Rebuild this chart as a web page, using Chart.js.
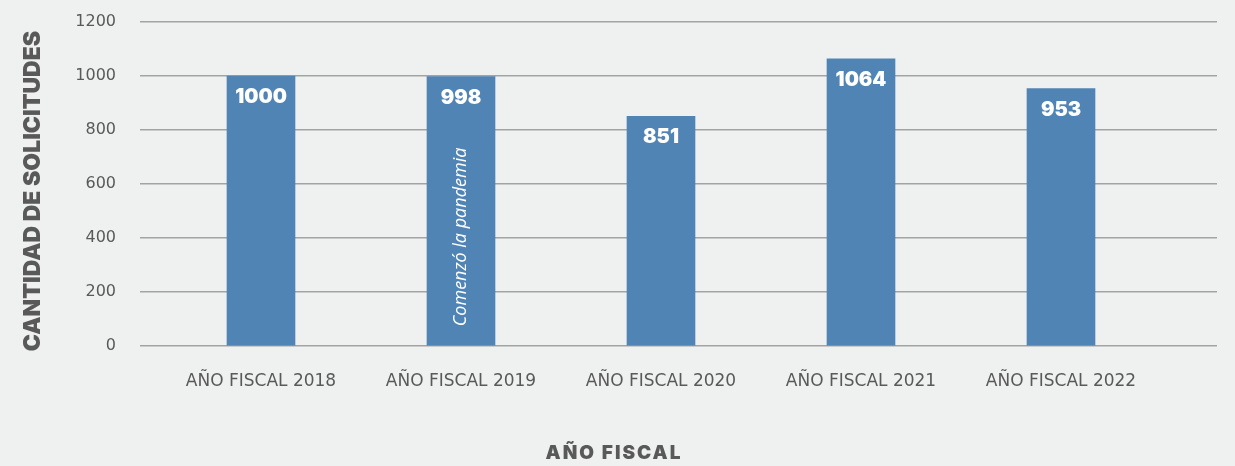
<!DOCTYPE html>
<html>
<head>
<meta charset="utf-8">
<script src="https://cdn.jsdelivr.net/npm/chart.js@4/dist/chart.umd.min.js"></script>
<style>
  html, body { margin: 0; padding: 0; background: #eff0f0; }
  #wrap { width: 1235px; height: 466px; }
</style>
</head>
<body>
<div id="wrap"><canvas id="solicitudes"></canvas></div>
<script>
// data
const years = ["AÑO FISCAL 2018", "AÑO FISCAL 2019", "AÑO FISCAL 2020", "AÑO FISCAL 2021", "AÑO FISCAL 2022"];
const requests = [1000, 998, 851, 1064, 953];
const yTicks = [0, 200, 400, 600, 800, 1000, 1200];
const notes = ["", "Comenzó la pandemia", "", "", ""];
const xTitle = "AÑO FISCAL";
const yTitle = "CANTIDAD DE SOLICITUDES";

const barColor = "#5084b5";
const textGray = "#595959";

// value on top of each bar, the rotated note inside a bar, and both axis titles
const barLabels = {
    id: "barLabels",
    afterDatasetsDraw(chart) {
        const ctx = chart.ctx;
        const bars = chart.getDatasetMeta(0).data;
        ctx.save();
        ctx.fillStyle = "#ffffff";
        ctx.textBaseline = "middle";
        bars.forEach((bar, i) => {
            ctx.font = "900 20px Inter";
            ctx.textAlign = "center";
            ctx.fillText(String(requests[i]), bar.x, bar.y + 21);
            if (notes[i]) {
                ctx.save();
                ctx.translate(bar.x, bar.base - 19);
                ctx.rotate(-Math.PI / 2);
                ctx.font = "italic 18px 'Open Sans'";
                ctx.textAlign = "left";
                ctx.fillText(notes[i], 0, 0);
                ctx.restore();
            }
        });

        ctx.fillStyle = textGray;
        ctx.textAlign = "center";
        ctx.save();
        ctx.translate(33, 191);
        ctx.rotate(-Math.PI / 2);
        ctx.font = "900 23px Inter";
        ctx.fillText(yTitle, 0, 0);
        ctx.restore();

        ctx.font = "900 19px Inter";
        ctx.letterSpacing = "2px";
        ctx.fillText(xTitle, 614, 453);
        ctx.restore();
    }
};

const points = requests.map((v, i) => ({ x: i, y: v }));

new Chart(document.getElementById("solicitudes").getContext("2d"), {
    type: "bar",
    data: {
        datasets: [{
            data: points,
            backgroundColor: barColor,
            borderWidth: 0,
            barThickness: 68
        }]
    },
    options: {
        responsive: true,
        maintainAspectRatio: false,
        animation: false,
        layout: { padding: { top: 22, right: 18, bottom: 0, left: 0 } },
        plugins: {
            legend: { display: false },
            tooltip: { enabled: false }
        },
        scales: {
            x: {
                type: "linear",
                offset: false,
                min: -0.605,
                max: 4.78,
                grid: { display: false },
                border: { display: false },
                afterFit(scale) { scale.height = 120; },
                ticks: {
                    stepSize: 1,
                    includeBounds: false,
                    autoSkip: false,
                    maxRotation: 0,
                    padding: 17,
                    color: textGray,
                    font: { family: "'DejaVu Sans'", size: 17 },
                    callback: v => Number.isInteger(v) ? (years[v] || "") : ""
                }
            },
            y: {
                min: yTicks[0],
                max: yTicks[yTicks.length - 1],
                afterFit(scale) {
                    scale.width = 140;
                    scale.paddingTop = 10;
                    scale.paddingBottom = 10;
                },
                afterBuildTicks(scale) { scale.ticks = yTicks.map(v => ({ value: v })); },
                grid: { color: "#a3a3a3", lineWidth: 1.5, drawTicks: false },
                border: { display: false },
                ticks: {
                    padding: 24,
                    color: textGray,
                    font: { family: "'DejaVu Sans'", size: 16 },
                    callback: v => String(v)
                }
            }
        }
    },
    plugins: [barLabels]
});
</script>
</body>
</html>
